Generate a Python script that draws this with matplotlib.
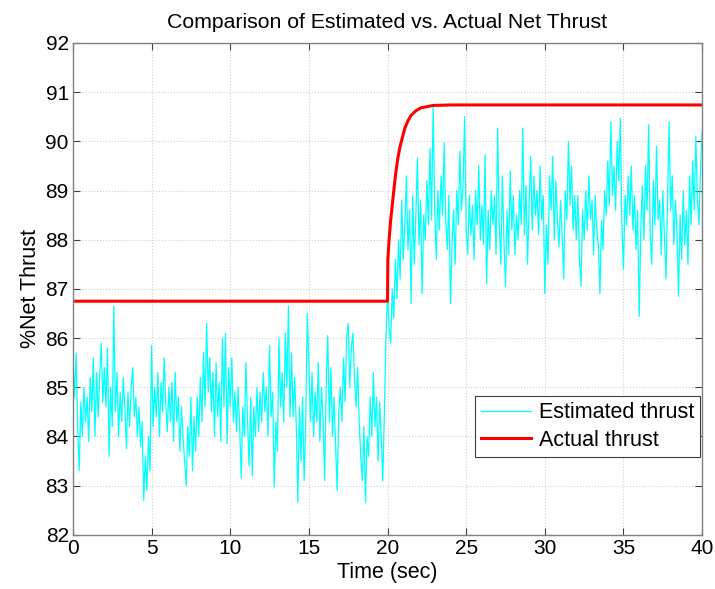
import numpy as np
import matplotlib
matplotlib.use('Agg')
import matplotlib.pyplot as plt

plt.rcParams['font.family'] = ['Liberation Sans', 'DejaVu Sans']

# estimated thrust, every 0.1 s (one row per second)
est_thrust = [
    85.6, 84.8, 85.7, 84.2, 83.3, 84.7, 84.0, 85.0, 84.3, 84.8,
    83.9, 85.2, 84.5, 85.6, 84.0, 85.3, 84.4, 85.2, 85.9, 84.7,
    85.4, 84.6, 85.8, 83.6, 85.0, 84.2, 86.65, 84.5, 85.3, 84.0,
    84.9, 84.3, 85.2, 84.6, 83.75, 84.9, 84.2, 85.0, 85.4, 84.4,
    84.8, 84.0, 84.6, 83.8, 84.3, 82.7, 83.6, 82.9, 84.0, 83.3,
    85.85, 84.2, 85.0, 84.4, 85.3, 84.0, 85.1, 84.5, 85.6, 84.7,
    84.1, 85.0, 84.3, 85.1, 83.9, 85.3, 84.3, 84.8, 83.7, 84.6,
    84.0, 83.5, 83.0, 84.2, 83.6, 84.8, 83.3, 84.4, 83.7, 84.8,
    84.0, 85.2, 84.3, 85.7, 84.6, 86.3, 84.9, 85.6, 84.5, 85.3,
    84.0, 85.5, 84.4, 85.1, 83.9, 86.0, 84.6, 86.1, 83.85, 85.4,
    84.6, 85.6, 84.3, 84.9, 84.1, 85.0, 84.2, 83.15, 84.6, 84.0,
    85.5, 84.3, 83.4, 84.8, 83.2, 84.6, 84.0, 85.0, 84.1, 84.9,
    84.3, 85.3, 84.5, 85.0, 84.0, 85.85, 84.4, 84.9, 82.97, 84.3,
    83.7, 86.0, 84.6, 85.3, 84.3, 86.1, 85.0, 86.65, 84.4, 85.7,
    84.4, 85.2, 84.2, 82.66, 84.6, 83.5, 84.8, 83.1, 84.3, 86.5,
    85.5, 84.3, 85.3, 84.0, 84.9, 84.3, 85.5, 83.9, 85.0, 84.4,
    83.1, 85.0, 86.05, 84.3, 85.4, 84.0, 84.8, 83.8, 82.9, 84.5,
    85.0, 84.3, 85.6, 84.7, 86.0, 86.3, 85.0, 85.8, 86.1, 85.2,
    84.6, 85.4, 84.3, 83.6, 83.1, 84.2, 82.65, 84.0, 83.6, 84.8,
    84.0, 85.3, 84.2, 84.8, 83.5, 84.7, 84.0, 83.1, 84.5, 86.0,
    86.9, 86.2, 85.9, 87.0, 86.4, 87.6, 86.8, 88.0, 87.2, 88.8,
    87.6, 88.3, 89.3, 87.8, 88.6, 86.7, 88.9, 87.5, 88.5, 89.66,
    87.9, 88.8, 86.9, 88.5, 88.0, 89.2, 88.3, 89.86, 88.4, 90.75,
    88.6, 87.6, 89.0, 88.2, 89.3, 88.5, 89.97, 88.4, 87.8, 88.9,
    86.7, 87.9, 88.6, 87.5, 89.0, 88.3, 89.8, 88.6, 89.1, 90.5,
    88.2, 87.7, 88.9, 88.1, 88.7, 87.6, 89.0, 88.3, 89.5, 88.0,
    88.7, 87.9, 89.73, 87.1, 88.6, 87.8, 89.0, 88.3, 88.9, 87.7,
    90.27, 88.4, 87.5, 89.3, 88.0, 87.05, 88.6, 87.7, 89.4, 88.2,
    88.9, 87.7, 88.5, 88.0, 89.0, 88.3, 90.27, 88.1, 89.1, 87.5,
    88.7, 89.7, 88.2, 89.3, 88.5, 89.0, 88.1, 89.5, 88.4, 88.9,
    86.9, 88.3, 87.5, 89.3, 88.6, 89.7, 88.0, 89.2, 88.4, 87.85,
    88.8, 88.1, 87.2, 89.0, 88.4, 90.0, 88.7, 89.5, 88.2, 88.9,
    88.0, 88.9, 87.6, 87.05, 88.6, 88.0, 89.0, 88.2, 89.3, 88.4,
    88.8, 87.7, 88.9, 88.2, 87.9, 86.9, 88.4, 87.8, 89.0, 88.5,
    89.6, 88.7, 90.4, 88.9, 89.5, 88.6, 90.0, 89.2, 90.47, 88.3,
    87.4, 88.9, 88.3, 89.3, 88.5, 89.5, 88.2, 88.9, 87.8, 88.6,
    86.44, 88.2, 89.1, 88.0, 89.5, 88.6, 90.34, 88.1, 87.5, 89.2,
    88.3, 89.9, 88.4, 88.8, 87.7, 89.0, 88.1, 87.2, 88.7, 90.4,
    88.6, 89.3, 87.9, 88.8, 88.2, 86.85, 88.5, 87.6, 89.0, 87.9,
    88.6, 87.5, 89.3, 88.3, 89.6, 88.6, 90.1, 88.8, 88.3, 89.5,
    90.2,
]
est_time = np.arange(len(est_thrust)) * 0.1

# actual thrust (step at 20 s then first-order rise)
act_time = [0, 20, 20.02, 20.1, 20.2, 20.3, 20.5, 20.65, 20.8, 21.1, 21.3,
            21.5, 21.8, 22.1, 22.9, 24, 40]
act_thrust = [86.75, 86.75, 87.6, 88.0, 88.4, 88.7, 89.3, 89.65, 89.9, 90.27,
              90.42, 90.53, 90.62, 90.68, 90.73, 90.74, 90.74]

fig = plt.figure(figsize=(7.15, 5.89), dpi=100)
ax = fig.add_axes([0.102, 0.092, 0.880, 0.835])

ax.plot(est_time, est_thrust, color='cyan', lw=0.9, label='Estimated thrust')
ax.plot(act_time, act_thrust, color='red', lw=2.2, label='Actual thrust')

ax.set_xlim(0, 40)
ax.set_ylim(82, 92)
ax.set_xticks(range(0, 41, 5))
ax.set_yticks(range(82, 93))
ax.grid(True, color='#d0d0d0', linestyle=':', linewidth=0.8)
ax.tick_params(direction='in', top=True, right=True, labelsize=15, length=5,
               color='#404040', pad=3)
for s in ax.spines.values():
    s.set_color('#808080')
    s.set_linewidth(1.0)

ax.set_title('Comparison of Estimated vs. Actual Net Thrust', fontsize=15.3,
             pad=11)
ax.set_xlabel('Time (sec)', fontsize=15.5, labelpad=3)
ax.set_ylabel('%Net Thrust', fontsize=15.5, labelpad=3)

leg = ax.legend(loc='lower right', bbox_to_anchor=(0.997, 0.158),
                borderaxespad=0, fontsize=15.5, fancybox=False, framealpha=1,
                edgecolor='#404040', handlelength=2.3, handletextpad=0.35,
                borderpad=0.3, labelspacing=0.3)
leg.get_frame().set_linewidth(0.8)

fig.savefig('out.png', dpi=100)
